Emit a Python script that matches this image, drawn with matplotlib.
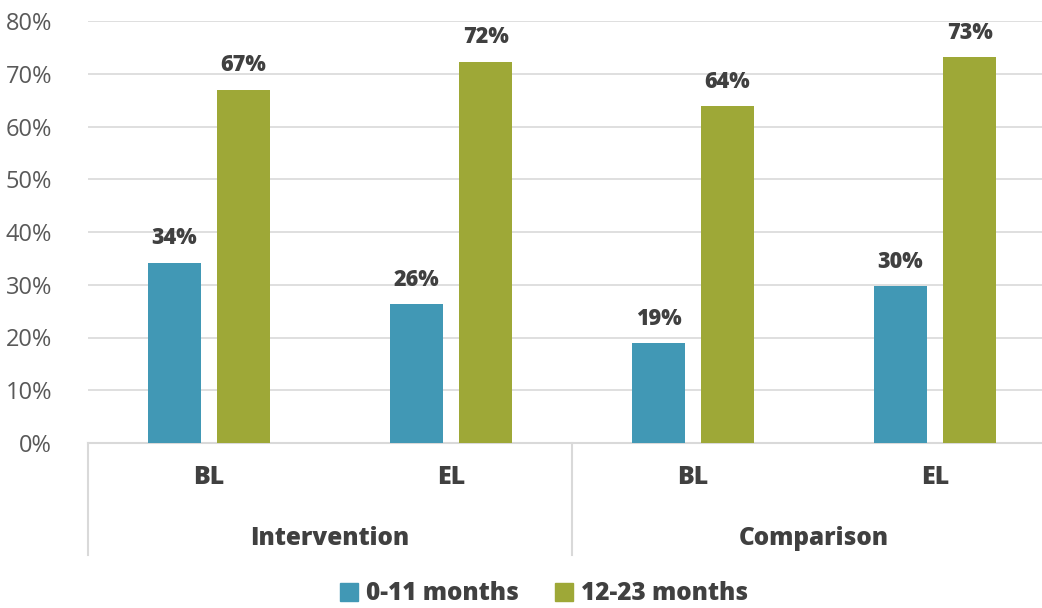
import matplotlib
matplotlib.use("Agg")
import matplotlib.pyplot as plt
import matplotlib.transforms as mtransforms
from matplotlib.patches import Patch
import numpy as np

plt.rcParams['font.family'] = ['Open Sans', 'DejaVu Sans']

# Data
groups = ["Intervention", "Comparison"]
periods = ["BL", "EL", "BL", "EL"]
series_names = ["0-11 months", "12-23 months"]
young = [34.1, 26.3, 18.9, 29.7]
older = [67.0, 72.3, 63.8, 73.1]

blue = "#4198b5"
green = "#9ea837"
grid_col = "#d9d9d9"
text_col = "#595959"
label_col = "#404040"
heavy = 800

fig = plt.figure(figsize=(10.42, 6.08), dpi=100)
ax = fig.add_axes([88 / 1042, 165 / 608, 968 / 1042, 422 / 608])

x = np.arange(len(periods))
w = 0.223
off = 0.1426
b1 = ax.bar(x - off, young, w, color=blue, zorder=3)
b2 = ax.bar(x + off, older, w, color=green, zorder=3)

for bars, vals in [(b1, young), (b2, older)]:
    for r, v in zip(bars, vals):
        ax.text(r.get_x() + r.get_width() / 2, v + 2.4, f"{round(v)}%",
                ha="center", va="bottom", fontsize=15.5, fontweight=heavy,
                color=label_col)

ax.set_xlim(-0.5, len(periods) - 0.5)
ax.set_ylim(0, 80)
ax.set_yticks(range(0, 81, 10))
ax.set_yticklabels([f"{v}%" for v in range(0, 81, 10)], fontsize=17, color=text_col)
ax.yaxis.grid(True, color=grid_col, linewidth=1.2, zorder=0)
ax.tick_params(axis="y", length=0, pad=26)

for s in ["top", "right", "left"]:
    ax.spines[s].set_visible(False)
ax.spines["bottom"].set_color(grid_col)
ax.spines["bottom"].set_linewidth(1.5)

ax.set_xticks(x)
ax.set_xticklabels(periods, fontsize=18, fontweight=heavy, color=label_col)
ax.tick_params(axis="x", length=0, pad=16)

trans = mtransforms.blended_transform_factory(ax.transData, ax.transAxes)
for xs in [-0.5, 1.5, 3.5]:
    ax.plot([xs, xs], [0, -0.265], transform=trans, color=grid_col,
            linewidth=1.5, clip_on=False)
for i, g in enumerate(groups):
    ax.text(2 * i + 0.5, -0.227, g, transform=trans, ha="center", va="center",
            fontsize=17.5, fontweight=heavy, color=label_col)

handles = [Patch(color=blue), Patch(color=green)]
leg = fig.legend(handles, series_names, loc="center", bbox_to_anchor=(0.522, 1 - 594 / 608),
                 ncol=2, frameon=False, handlelength=0.75, handleheight=0.75,
                 handletextpad=0.3, columnspacing=1.5,
                 prop={"size": 17.5, "weight": heavy})
for t in leg.get_texts():
    t.set_color(label_col)

fig.savefig("out.png", dpi=100)
